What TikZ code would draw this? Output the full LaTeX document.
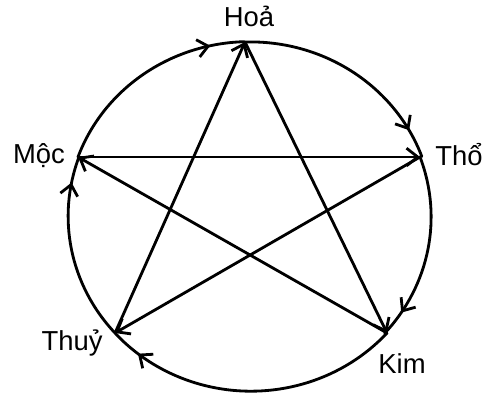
\documentclass[tikz,border=0pt]{standalone}
\usepackage{fontspec}
\setmainfont{Liberation Sans}
\usetikzlibrary{arrows.meta, decorations.markings}

\begin{document}
\begin{tikzpicture}[x=0.025cm, y=-0.025cm,
  el/.style={font=\fontsize{19.5}{23}\selectfont, anchor=base, inner sep=0pt},
  ar/.style={-{Straight Barb[length=2.8mm, width=4.4mm]}},
  cyc/.style={decoration={markings, mark=at position #1 with
              {\arrow{Straight Barb[length=2.6mm, width=4.4mm]}}}, postaction={decorate}},
  line width=2pt, line cap=round, line join=round]
\useasboundingbox (0,0) rectangle (484,399);
% the five elements
\coordinate (hoa) at (245,42);
\coordinate (tho) at (420,157);
\coordinate (kim) at (387,333);
\coordinate (thuy) at (115,333);
\coordinate (moc) at (78,157);
\node[el] (lhoa) at (249,27) {Hoả};
\node[el] (ltho) at (459,165) {Thổ};
\node[el] (lkim) at (402,373) {Kim};
\node[el] (lthuy) at (72,350) {Thuỷ};
\node[el] (lmoc) at (39,163) {Mộc};
% generating cycle on the circle
\draw[cyc=0.87] (hoa) arc[start angle=-91.7, end angle=-20.1, x radius=182.5, y radius=174.5];
\draw[cyc=0.86] (tho) arc[start angle=-20.1, end angle=41.8, x radius=182.5, y radius=174.5];
\draw[cyc=0.90] (kim) arc[start angle=41.8, end angle=138, x radius=182.5, y radius=174.5];
\draw[cyc=0.86] (thuy) arc[start angle=138, end angle=199.8, x radius=182.5, y radius=174.5];
\draw[cyc=0.84] (moc) arc[start angle=199.8, end angle=268.3, x radius=182.5, y radius=174.5];
% controlling cycle (star)
\draw[ar] (moc) -- (tho);
\draw[ar] (tho) -- (thuy);
\draw[ar] (thuy) -- (hoa);
\draw[ar] (hoa) -- (kim);
\draw[ar] (kim) -- (moc);
\end{tikzpicture}
\end{document}
